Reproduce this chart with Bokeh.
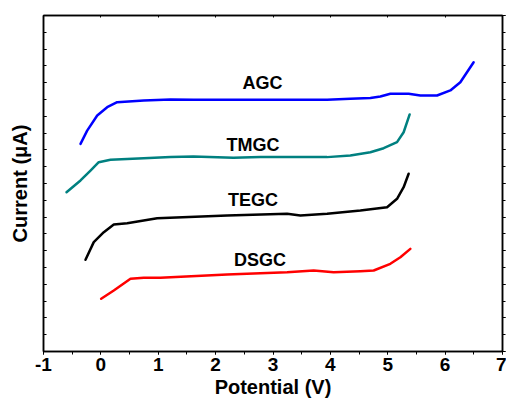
from bokeh.plotting import figure
from bokeh.models import Range1d, LinearAxis, SingleIntervalTicker, ColumnDataSource, CustomJSTickFormatter
from bokeh.core.properties import value
from bokeh.embed import file_html
from bokeh.resources import INLINE

# Linear sweep voltammograms (curves offset vertically for clarity)
agc_v = [-0.355, -0.239, -0.064, 0.110, 0.284, 0.747, 1.213, 1.618, 2.780, 3.943, 4.348, 4.697,
         4.871, 5.045, 5.364, 5.568, 5.859, 6.091, 6.265, 6.497]
agc_i = [12.36, 13.15, 14.05, 14.54, 14.84, 14.94, 15.00, 14.98, 14.98, 14.98, 15.04, 15.09,
         15.18, 15.34, 15.34, 15.24, 15.24, 15.54, 16.03, 17.22]

tmgc_v = [-0.599, -0.355, -0.181, -0.037, 0.167, 0.747, 1.213, 1.613, 2.310, 2.780, 3.943, 4.348,
          4.697, 4.929, 5.162, 5.277, 5.382]
tmgc_i = [9.48, 10.18, 10.77, 11.27, 11.41, 11.51, 11.57, 11.61, 11.53, 11.57, 11.57, 11.67,
          11.86, 12.10, 12.46, 13.05, 14.11]

tegc_v = [-0.268, -0.124, 0.051, 0.225, 0.458, 0.981, 2.200, 3.246, 3.477, 3.943, 4.523, 4.988,
          5.162, 5.277, 5.364]
tegc_i = [5.46, 6.51, 7.10, 7.56, 7.64, 7.93, 8.10, 8.20, 8.10, 8.20, 8.39, 8.59,
          9.09, 9.78, 10.58]

dsgc_v = [0.005, 0.225, 0.516, 0.747, 1.038, 2.200, 3.246, 3.709, 4.057, 4.523, 4.755, 5.045,
          5.220, 5.394]
dsgc_i = [3.14, 3.63, 4.33, 4.39, 4.39, 4.58, 4.72, 4.82, 4.72, 4.78, 4.82, 5.22,
          5.61, 6.11]

label_names = ["AGC", "TMGC", "TEGC", "DSGC"]
label_v = [2.815, 2.65, 2.65, 2.775]
label_i = [15.97, 12.30, 8.99, 5.46]

FONT = "Liberation Sans"

p = figure(width=506, height=403, output_backend="svg", toolbar_location=None,
           x_range=Range1d(-1, 7), y_range=Range1d(0, 20),
           min_border_left=43, min_border_right=4, min_border_top=15, min_border_bottom=52)
p.background_fill_color = "white"
p.border_fill_color = "white"
p.grid.visible = False
p.outline_line_color = "black"
p.outline_line_width = 1.5

series = [
    (agc_v, agc_i, "#0000ff"),
    (tmgc_v, tmgc_i, "#008080"),
    (tegc_v, tegc_i, "#000000"),
    (dsgc_v, dsgc_i, "#ff0000"),
]
for xs, ys, col in series:
    p.line(xs, ys, line_color=col, line_width=2.5, line_join="round", line_cap="round")

src = ColumnDataSource(dict(x=label_v, y=label_i, t=label_names))
p.text(x="x", y="y", text="t", source=src, text_align="center", text_baseline="middle",
       text_font=value(FONT), text_font_style="bold", text_font_size="18px", text_color="black")

blank = CustomJSTickFormatter(code="return '';")

# bottom axis
xa = p.xaxis[0]
xa.ticker = SingleIntervalTicker(interval=1, num_minor_ticks=2)
xa.formatter = CustomJSTickFormatter(code="return tick.toFixed(0);")
xa.axis_label = "Potential (V)"
xa.axis_label_text_font = FONT
xa.axis_label_text_font_style = "bold"
xa.axis_label_text_font_size = "20px"
xa.axis_label_text_color = "black"
xa.axis_label_standoff = 2
xa.major_label_text_font = FONT
xa.major_label_text_font_style = "bold"
xa.major_label_text_font_size = "19px"
xa.major_label_text_color = "black"
xa.major_label_standoff = 3
xa.major_tick_out = 3
xa.major_tick_in = 0
xa.minor_tick_out = 3
xa.minor_tick_in = 0
xa.axis_line_width = 1.5

# left axis, no tick labels
ya = p.yaxis[0]
ya.ticker = SingleIntervalTicker(interval=2, num_minor_ticks=2)
ya.formatter = blank
ya.axis_label = "Current (\u03bcA)"
ya.axis_label_text_font = FONT
ya.axis_label_text_font_style = "bold"
ya.axis_label_text_font_size = "20px"
ya.axis_label_text_color = "black"
ya.axis_label_standoff = 13
ya.major_label_standoff = 0
ya.major_tick_in = 3
ya.major_tick_out = 0
ya.minor_tick_in = 3
ya.minor_tick_out = 0
ya.axis_line_width = 1.5

# mirrored top and right axes
top = LinearAxis(ticker=SingleIntervalTicker(interval=1, num_minor_ticks=2), formatter=blank,
                 major_label_standoff=0,
                 major_tick_in=2, major_tick_out=0, minor_tick_in=0, minor_tick_out=0,
                 axis_line_width=1.5)
p.add_layout(top, "above")
right = LinearAxis(ticker=SingleIntervalTicker(interval=2, num_minor_ticks=2), formatter=blank,
                   major_label_standoff=0,
                   major_tick_in=0, major_tick_out=3, minor_tick_in=0, minor_tick_out=3,
                   axis_line_width=1.5)
p.add_layout(right, "right")

open("out.html", "w").write(file_html(p, INLINE))
